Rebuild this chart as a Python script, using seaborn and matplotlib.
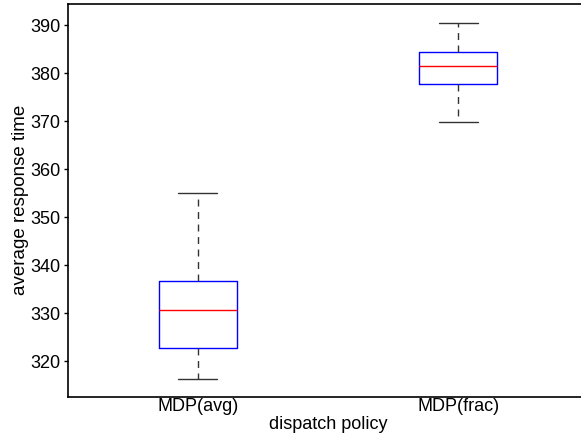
import pandas as pd
import matplotlib
matplotlib.use("Agg")
import matplotlib.pyplot as plt
import seaborn as sns

# --- data (whisker low, Q1, median, Q3, whisker high) ---
policies = ["MDP(avg)", "MDP(frac)"]
mdp_avg = [316.3, 322.7, 330.6, 336.7, 355.0]
mdp_frac = [369.8, 377.7, 381.4, 384.3, 390.5]

df = pd.DataFrame({
    "policy": [policies[0]] * len(mdp_avg) + [policies[1]] * len(mdp_frac),
    "response": mdp_avg + mdp_frac,
})

sns.set_style("white")
plt.rcParams['font.family'] = ['Liberation Sans', 'DejaVu Sans']
plt.rcParams['text.color'] = 'black'
plt.rcParams['axes.labelcolor'] = 'black'
plt.rcParams['xtick.color'] = 'black'
plt.rcParams['ytick.color'] = 'black'

fig = plt.figure(figsize=(5.81, 4.34), dpi=100)
ax = fig.add_axes([0.1165, 0.086, 0.8965, 0.905])

sns.boxplot(
    data=df, x="policy", y="response", order=policies,
    width=0.3, whis=1.5, fill=False, linewidth=1, ax=ax,
    boxprops={"color": "blue"},
    medianprops={"color": "red"},
    whiskerprops={"color": "#333333", "linestyle": (0, (5, 4))},
    capprops={"color": "#333333"},
)

ax.set_xlim(-0.5, 1.5)
ax.set_ylim(312.6, 394.4)
ax.set_yticks(range(320, 391, 10))
ax.set_xlabel("dispatch policy", fontsize=13, labelpad=1)
ax.set_ylabel("average response time", fontsize=13.5, labelpad=1)
ax.tick_params(axis="y", direction="out", length=3, width=1, labelsize=13, pad=2, left=True)
ax.tick_params(axis="x", length=0, labelsize=13, pad=1)
for side in ["left", "bottom", "top"]:
    ax.spines[side].set_color("black")
    ax.spines[side].set_linewidth(1.2)
ax.spines["right"].set_visible(False)

fig.savefig("out.png", dpi=100)
